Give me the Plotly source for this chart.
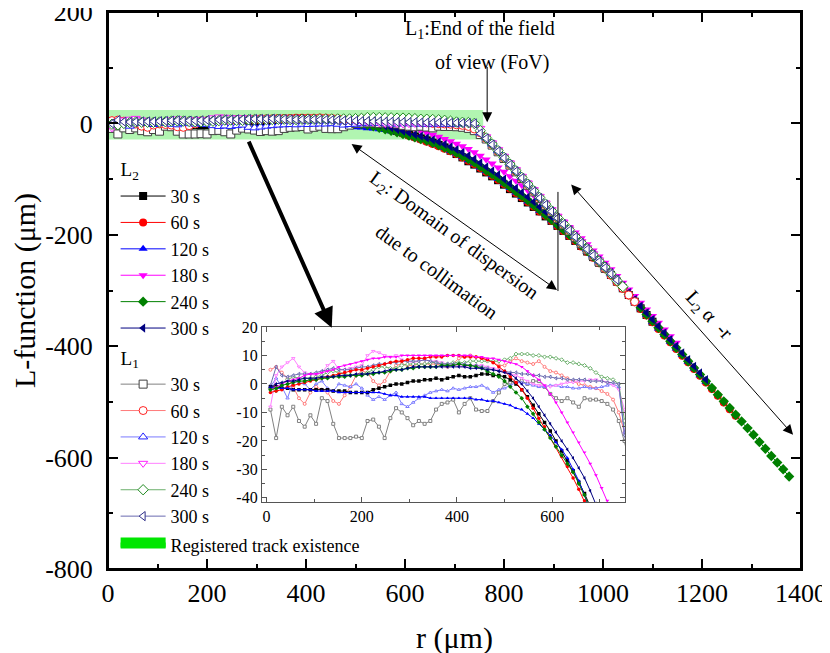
import plotly.graph_objects as go

FONT = "Liberation Serif, Times New Roman, serif"

# sampling grid of r (um): r = R0 + R_STEP * index
R0 = 8
R_STEP = 12

# ---------------- L2 (filled symbols) ----------------
L2_30 = [-1, -1, -1.5, -1.5, -2, -2, -2, -2, -2, -2,
         -2, -2.5, -2.5, -2.5, -3, -3, -3, -3, -2, -1.5,
         -1, -0.5, 0, 0, 0.5, 1, 1, 1.5, 1.5, 2,
         1.5, 2, 2.5, 3, 2.5, 2.5, 3, 3.5, 3.5, 3,
         3, 2.5, 1.5, 0, -2, -4.5, -7.5, -10.5, -13.5, -16.5,
         -20, -23.5, -27, -30.5, -34.5, -38.5, -43, -49, -55, -61,
         -68, -74, -81, -88, -95, -102, -110, -118, -126, -134,
         -142, -150, -158, -167, -175, -184, -193, -202, -211, -220,
         -230, -240, -250, -261, -272, -284, -296, -308, -320, -332,
         -344, -356]
L2_60 = [-3, -2.5, -2, -1, -0.5, 0, 0.5, 1, 1.5, 2,
         2.5, 3, 3.5, 4, 4.5, 5, 5, 5.5, 6, 6.5,
         7, 7.5, 8, 8, 8.5, 9, 9, 9, 9.5, 9.5,
         9.5, 10, 10, 10, 9.5, 9.5, 9.5, 9, 8.5, 7.5,
         6, 4.5, 2.5, 0.5, -2, -5, -8.5, -12, -15, -18.5,
         -22, -25.5, -29, -33, -37, -41, -45.5, -50, -55, -61,
         -67, -73, -80, -87, -94, -101, -109, -117, -125, -133,
         -141, -149, -158, -166, -175, -184, -193, -202, -211, -221,
         -231, -241, -251, -262, -273, -285, -297, -309, -321, -333,
         -345, -357, -369, -381, -393, -405, -417, -429, -441, -453,
         -465, -477, -489, -501, -513, -525]
L2_120 = [-1, -1.5, -1.5, -1.5, -2, -2, -2, -2, -2.5, -2.5,
          -2.5, -2.5, -3, -3, -3, -3, -3, -3, -3, -3,
          -3.5, -4, -4, -4.5, -4.5, -4.5, -4.5, -4.5, -5, -5,
          -5, -5, -5, -5, -5, -5, -5.5, -5.5, -6, -6,
          -6.5, -7, -7.5, -8.5, -9, -10.5, -12, -14, -16, -18,
          -20.5, -23, -26, -30, -34, -39, -44, -49, -54, -60,
          -66, -72, -79, -86, -93, -100, -108, -116, -124, -132,
          -140, -148, -157, -165, -174, -183, -192, -201, -210, -220,
          -230, -240, -250, -261, -272, -284, -296, -308, -320, -332,
          -344, -356, -368, -380, -392, -404, -416, -428, -440, -452,
          -464]
L2_180 = [-2, -1, 0, 1, 1.5, 2, 3, 3.5, 3.5, 4,
          4.5, 5, 6, 6.5, 7, 7.5, 8, 8.5, 9, 9,
          9.5, 9.5, 9.5, 10, 10, 10, 10, 10, 10, 10,
          10, 10, 10, 10, 10, 10, 9.5, 9.5, 9, 9,
          8.5, 8, 7.5, 7, 6, 4.5, 3, 1.5, -0.5, -3.5,
          -6.5, -10, -13.5, -17, -20.5, -24, -28, -32, -36.5, -41,
          -46, -52, -58, -65, -72, -79, -87, -95, -103, -111,
          -120, -129, -138, -147, -157, -166, -176, -186, -196, -206,
          -217, -228, -239, -250, -262, -274, -286, -298, -310, -322,
          -334, -346, -358, -370, -382, -394]
L2_240 = [-2, -1.5, -0.5, 0, 0.5, 1, 1, 1.5, 1.5, 2,
          2, 2.5, 2.5, 2.5, 3, 3, 3, 3.5, 3.5, 4,
          4, 4.5, 5, 5, 5.5, 5.5, 6, 6, 6, 6,
          6.5, 6.5, 6.5, 7, 6.5, 6.5, 6, 5.5, 4.5, 3.5,
          2.5, 1, -1, -3, -5, -8, -10.5, -13.5, -16, -19,
          -22, -25, -28, -31, -35, -39, -43.5, -48, -53, -58.5,
          -64, -70, -77, -84, -91, -98, -106, -114, -122, -130,
          -138, -147, -155, -164, -173, -182, -191, -200, -209, -219,
          -229, -239, -249, -260, -271, -283, -295, -307, -319, -331,
          -343, -355, -367, -379, -391, -403, -415, -427, -439, -451,
          -463, -475, -487, -499, -511, -523, -535, -547, -559, -572,
          -584, -597, -609, -621, -634]
L2_300 = [-1, 0, 0.5, 1, 1, 1.5, 2, 2, 2, 2.5,
          2.5, 2.5, 3, 3, 3, 3.5, 3.5, 3.5, 4, 4,
          4.5, 5, 5, 5, 5.5, 6, 6, 6, 6, 6,
          6, 6, 6, 6, 6, 5.5, 5.5, 5.5, 5, 5,
          4.5, 4, 3.5, 2, 0, -2.5, -5, -8, -11, -14,
          -17, -20, -23, -26, -29.5, -33, -37.5, -42, -47, -52,
          -58, -64, -71, -78, -85, -92, -100, -108, -116, -124,
          -132, -141, -150, -159, -168, -177, -186, -196, -205, -215,
          -225, -235, -246, -257, -268, -280, -292, -304, -316, -328,
          -340, -352, -364, -376, -388, -400, -412, -424, -436, -448,
          -460]

# ---------------- L1 (open symbols) ----------------
L1_30 = [-9, -19, -8, -11, -8, -13, -15, -11, -14, -5,
         -6, -14, -19, -19, -19, -18.5, -19, -13, -12.5, -15,
         -19, -12, -8.5, -10, -12, -14.5, -13, -14, -13, -9,
         -7, -6.5, -5.5, -10, -7, -5, -9, -9.5, -9.5, -6,
         -3, 0, 0.5, 1, 1, 0, 1, 1, -1, -3.5,
         -5, -6, -5, -6.5, -8, -5, -5.5, -5.5, -6, -7,
         -9, -13, -20, -28, -39, -51, -63, -75, -87, -99,
         -111, -123, -135, -147, -159, -171, -182, -193, -205, -216,
         -227, -238, -249, -260]
L1_60 = [5, 6, 4, 2, -1, -5, -7, -3, -1, -2,
         -3, -6, -7, -4, -1, 3, 4.5, 4, 1, -0.5,
         1, 4.5, 6.5, 7, 6.5, 6.5, 7, 7, 7, 7,
         6.5, 6, 7, 9, 9.5, 10, 9.5, 9, 8.5, 7.5,
         6.5, 6.5, 8, 9, 8, 7.5, 7, 8, 6, 4.5,
         4, 3, 2, 1, 0, -0.5, -1, -1.5, -2.5, -3.5,
         -5.5, -10, -17, -27, -38, -50, -62, -74, -86, -98,
         -110, -122, -134, -146, -158, -170, -181, -192, -204, -215,
         -226, -237, -248, -260, -272, -284, -296, -308, -320]
L1_120 = [-1, 2, -1, -5, 1, 0.5, 0, -2, 0, 1,
          -1.5, -2.5, 0, -0.5, -1, 0, -1.5, -4, -5.5, -4.5,
          -5.5, -4, -3, -7, -8, -6.5, -5, -4, -3, -2.5,
          -2, -2.5, -1.5, -2, -1.5, -1, -1, -0.5, -1.5, -3,
          -2, -1.5, -0.5, 0.5, 0.5, 0, -0.5, -1, -1, -0.5,
          -0.5, -1, -1, -1.5, -1.5, -1, -1.5, -1.5, -1, -0.5,
          0, -1, -17, -26, -37, -49, -61, -73, -85, -97,
          -109, -121, -133, -145, -157, -169, -180, -191, -203, -214,
          -225, -236, -247, -258, -269, -280]
L1_180 = [-8, 3, 6, 7.5, 9, 6, 4, 3.5, 3, 4,
          6.5, 8, 5, 5, 5.5, 6, 6.5, 10, 11.5, 11,
          10, 9.5, 10, 8.5, 8, 7.5, 8, 8.5, 8, 8,
          7.5, 7, 6.5, 6.5, 6, 6.5, 6.5, 6.5, 6, 5.5,
          5, 4, 3.5, 3, 2, 1, 0, -0.5, -0.5, -1,
          -0.5, 0, 0.5, 0.5, 1, 1, 1.5, 1.5, 1, 0.5,
          -0.5, -2, -9, -24, -35, -47, -59, -71, -83, -95,
          -107, -119, -131, -143, -155, -167, -178, -190, -201, -212,
          -223, -234, -245, -256]
L1_240 = [-1.5, -2.5, 0, 1.5, 2.5, 2, 2, 2, 2.5, 3,
          4, 4.5, 4, 3.5, 3, 3, 3.5, 4, 5, 6,
          6, 5.5, 5.5, 6.5, 7, 7, 7, 7, 7.5, 7.5,
          7, 7, 7.5, 7.5, 7.5, 8, 8, 8, 8, 8,
          8, 8.5, 9, 10.5, 10.5, 10.5, 10, 10, 9.5, 9.5,
          9, 8.5, 7.5, 7.5, 7, 6.5, 5.5, 4, 2.5, 2,
          1.5, 0, -13, -26, -37, -49, -61, -73, -85, -97,
          -109, -121, -133, -145, -157, -169, -180, -191, -203, -214,
          -225, -236, -247, -258, -270, -282, -293]
L1_300 = [-0.5, 6, 3, 2.5, 3, 3.5, 3.5, 3.5, 4, 4.5,
          5, 5.5, 5, 5, 5, 5.5, 6, 6, 6.5, 7,
          7, 7.5, 7.5, 8, 8, 8, 8, 8.5, 8, 7.5,
          7, 7, 7, 7, 7, 6.5, 6.5, 6, 5.5, 5,
          4.5, 4.5, 4, 4, 3.5, 3.5, 3, 3, 2.5, 2.5,
          2, 2, 1.5, 1.5, 1.5, 1.5, 1, 1, 1, 0.5,
          0.5, 0, -18, -27, -38, -50, -62, -74, -86, -98,
          -110, -122, -134, -146, -158, -170, -181, -192, -204, -215,
          -226, -237, -248, -259, -270, -281]

TIMES = ["30 s", "60 s", "120 s", "180 s", "240 s", "300 s"]
L2_SERIES = [L2_30, L2_60, L2_120, L2_180, L2_240, L2_300]
L1_SERIES = [L1_30, L1_60, L1_120, L1_180, L1_240, L1_300]

# registered track existence band
BAND_R = [0, 758]
BAND_L = [-29, 24]

# axis ranges and tick labels
MAIN_X_RANGE = [0, 1400]
MAIN_Y_RANGE = [-800, 200]
MAIN_X_TICKS = [0, 200, 400, 600, 800, 1000, 1200, 1400]
MAIN_Y_TICKS = [200, 0, -200, -400, -600, -800]
INSET_X_TICKS = [0, 200, 400, 600]
INSET_Y_TICKS = [20, 10, 0, -10, -20, -30, -40]

SYMBOLS = ["square", "circle", "triangle-up", "triangle-down", "diamond", "triangle-left"]
L2_COLORS = ["#000000", "#ff0000", "#0000ff", "#ff00ff", "#008000", "#000080"]
L1_MARK_COLORS = ["#404040", "#ff2020", "#2020ff", "#ff20ff", "#208a20", "#30308a"]
L1_LINE_COLORS = ["#808080", "#ff7a7a", "#7a7aff", "#ff80ff", "#6cb06c", "#6a6ab0"]


def rgrid(vals):
    return [R0 + R_STEP * i for i in range(len(vals))]


def lab(v):
    return str(v)  # plain hyphen-minus as in the reference


GT_FONT = dict(family=FONT, size=19, color="black")

fig = go.Figure()

# band
fig.add_trace(go.Scatter(
    x=[BAND_R[0], BAND_R[1], BAND_R[1], BAND_R[0], BAND_R[0]],
    y=[BAND_L[0], BAND_L[0], BAND_L[1], BAND_L[1], BAND_L[0]],
    fill="toself", fillcolor="rgba(60,230,60,0.4)", mode="none",
    showlegend=False, hoverinfo="skip", xaxis="x", yaxis="y"))

# main: L2
for k in range(6):
    fig.add_trace(go.Scatter(
        x=rgrid(L2_SERIES[k]), y=L2_SERIES[k], mode="lines+markers",
        name=TIMES[k], legendgroup="L2",
        legendgrouptitle=dict(text="L<sub>2</sub>", font=GT_FONT),
        line=dict(color=L2_COLORS[k], width=1),
        marker=dict(symbol=SYMBOLS[k], size=8, color=L2_COLORS[k]),
        xaxis="x", yaxis="y"))

# main: L1
for k in range(6):
    fig.add_trace(go.Scatter(
        x=rgrid(L1_SERIES[k]), y=L1_SERIES[k], mode="lines+markers",
        name=TIMES[k], legendgroup="L1",
        legendgrouptitle=dict(text="L<sub>1</sub>", font=GT_FONT),
        line=dict(color=L1_LINE_COLORS[k], width=1),
        marker=dict(symbol=SYMBOLS[k], size=8, color="white",
                    line=dict(color=L1_MARK_COLORS[k], width=1)),
        xaxis="x", yaxis="y"))

# inset
for k in range(6):
    fig.add_trace(go.Scatter(
        x=rgrid(L1_SERIES[k]), y=L1_SERIES[k], mode="lines+markers",
        showlegend=False, line=dict(color=L1_LINE_COLORS[k], width=1),
        marker=dict(symbol=SYMBOLS[k], size=3, color="white",
                    line=dict(color=L1_LINE_COLORS[k], width=1)),
        xaxis="x2", yaxis="y2"))
for k in range(6):
    fig.add_trace(go.Scatter(
        x=rgrid(L2_SERIES[k]), y=L2_SERIES[k], mode="lines+markers",
        showlegend=False, line=dict(color=L2_COLORS[k], width=1),
        marker=dict(symbol=SYMBOLS[k], size=3.5, color=L2_COLORS[k]),
        xaxis="x2", yaxis="y2"))

# empty trace so that the top / right frame axes get drawn
fig.add_trace(go.Scatter(x=[None], y=[None], xaxis="x3", yaxis="y3",
                         showlegend=False, hoverinfo="skip"))

# legend entry for the band
fig.add_trace(go.Scatter(
    x=[None], y=[None], fill="toself", fillcolor="#00e600",
    line=dict(color="#00e600", width=12), mode="lines",
    name="Registered track existence", legendgroup="band",
    xaxis="x", yaxis="y"))

ann = []
arrow_kw = dict(axref="x", ayref="y", xref="x", yref="y", text="", showarrow=True,
                arrowcolor="black", arrowwidth=1, arrowhead=2, arrowsize=2, standoff=0, startstandoff=0)
# FoV arrow
ann.append(dict(x=766, y=2, ax=766, ay=104, **arrow_kw))
# L2 domain double arrow
ann.append(dict(x=907, y=-299, ax=489, ay=-35, arrowside="end+start", **arrow_kw))
# L2 ~ -r double arrow
ann.append(dict(x=1384, y=-559, ax=933, ay=-107, arrowside="end+start", **arrow_kw))
# thick arrow to inset
thick = dict(arrow_kw)
thick.update(arrowwidth=4, arrowsize=1)
ann.append(dict(x=452, y=-367, ax=283, ay=-30, **thick))

tf = dict(family=FONT, size=20, color="black")
ann.append(dict(x=752, y=168, xref="x", yref="y", text="L<sub>1</sub>:End of the field",
                showarrow=False, font=tf))
ann.append(dict(x=776, y=110, xref="x", yref="y", text="of view (FoV)",
                showarrow=False, font=tf))
ann.append(dict(x=697, y=-202, xref="x", yref="y", text="L<sub>2</sub>: Domain of dispersion",
                showarrow=False, font=tf, textangle=36))
ann.append(dict(x=665, y=-267, xref="x", yref="y", text="due to collimation",
                showarrow=False, font=tf, textangle=36))
ann.append(dict(x=1214, y=-344, xref="x", yref="y", text="L<sub>2</sub> α  -r",
                showarrow=False, font=tf, textangle=47))
# x-axis title
ann.append(dict(x=0.5, y=0, xref="x domain", yref="y domain", text="r (μm)",
                showarrow=False, yanchor="middle", yshift=-69,
                font=dict(family=FONT, size=30, color="black")))

shapes = [
    dict(type="line", xref="x", yref="y", x0=909, x1=909, y0=-123, y1=-301,
         line=dict(color="black", width=1)),
    # plot frame
    dict(type="rect", xref="x domain", yref="y domain", x0=0, x1=1, y0=0, y1=1,
         line=dict(color="black", width=2), fillcolor="rgba(0,0,0,0)", layer="above"),
]

main_common = dict(showline=True, linewidth=2, linecolor="black",
                   ticks="inside", ticklen=10, tickwidth=2, tickcolor="black",
                   showgrid=False, zeroline=False,
                   minor=dict(ticks="inside", ticklen=5, tickwidth=2, dtick=100,
                              tickcolor="black", showgrid=False))
inset_common = dict(showline=True, linewidth=1, linecolor="#555", mirror="allticks",
                    ticks="inside", ticklen=5, tickwidth=1, tickcolor="#555",
                    showgrid=False, zeroline=False,
                    tickfont=dict(family=FONT, size=16, color="black"))

# the page adds an 8 px body margin, so the figure is shifted by 8 px
fig.update_layout(
    width=822, height=653,
    margin=dict(l=100, r=29, t=4, b=92, autoexpand=False),
    paper_bgcolor="white", plot_bgcolor="white",
    font=dict(family=FONT, color="black"),
    annotations=ann, shapes=shapes,
    showlegend=True,
    legend=dict(x=0.011, y=0.752, xanchor="left", yanchor="top",
                bgcolor="rgba(0,0,0,0)", font=dict(family=FONT, size=18, color="black"),
                grouptitlefont=GT_FONT,
                tracegroupgap=2, itemwidth=45, traceorder="grouped"),
    xaxis=dict(range=MAIN_X_RANGE, domain=[0, 1], anchor="y", **main_common,
               tickvals=MAIN_X_TICKS, ticktext=[lab(v) for v in MAIN_X_TICKS],
               ticklabeloverflow="allow",
               tickfont=dict(family=FONT, size=26, color="black")),
    yaxis=dict(range=MAIN_Y_RANGE, domain=[0, 1], anchor="x", **main_common,
               tickvals=MAIN_Y_TICKS, ticktext=[lab(v) for v in MAIN_Y_TICKS],
               ticklabeloverflow="allow",
               tickfont=dict(family=FONT, size=26, color="black"), ticklabelstandoff=8,
               title=dict(text="L-function (μm)", font=dict(family=FONT, size=30, color="black"))),
    xaxis3=dict(range=MAIN_X_RANGE, overlaying="x", side="top", anchor="y", **main_common,
                dtick=200, tick0=0, showticklabels=False),
    yaxis3=dict(range=MAIN_Y_RANGE, overlaying="y", side="right", anchor="x", **main_common,
                dtick=200, tick0=0, showticklabels=False),
    xaxis2=dict(range=[-10, 753], domain=[0.222, 0.746], anchor="y2", **inset_common,
                tickvals=INSET_X_TICKS, ticktext=[lab(v) for v in INSET_X_TICKS],
                minor=dict(ticks="inside", ticklen=3, tickwidth=1, dtick=100, tickcolor="#555", showgrid=False)),
    yaxis2=dict(range=[-41.5, 20], domain=[0.120, 0.4345], anchor="x2", **inset_common,
                tickvals=INSET_Y_TICKS, ticktext=[lab(v) for v in INSET_Y_TICKS],
                minor=dict(ticks="inside", ticklen=3, tickwidth=1, dtick=5, tickcolor="#555", showgrid=False)),
)

fig.write_html("out.html")
